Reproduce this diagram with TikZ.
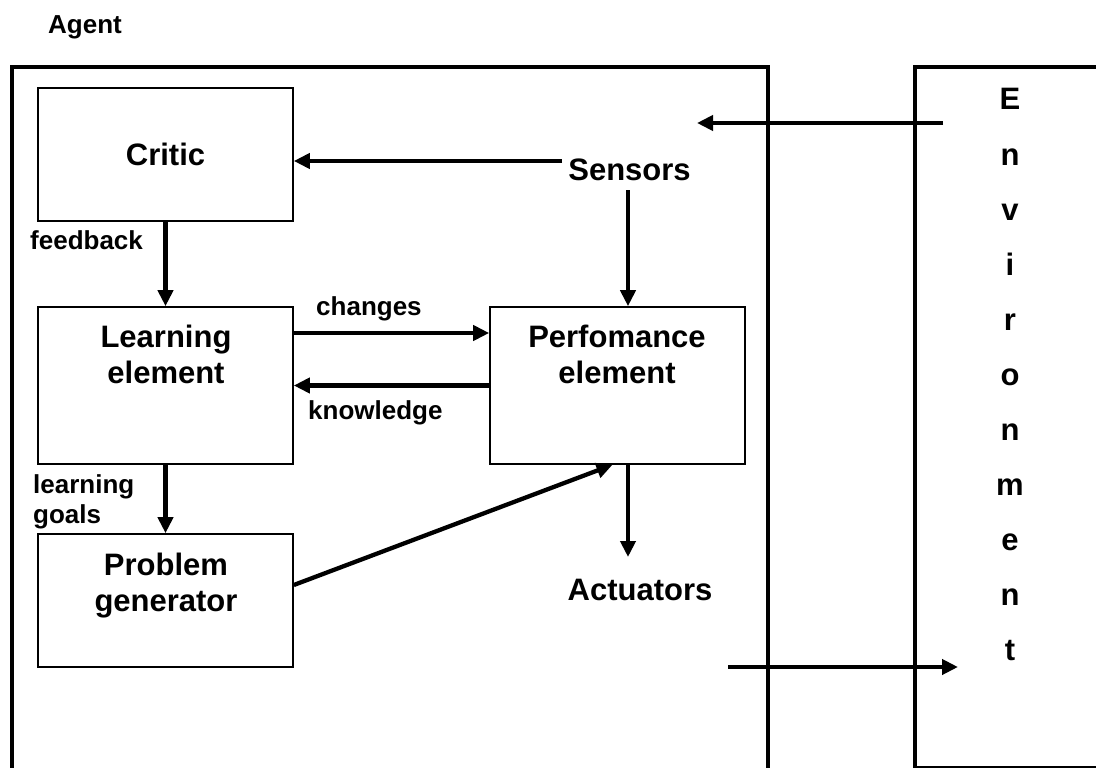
\documentclass[tikz,border=0pt]{standalone}
\usepackage{fontspec}
\setmainfont{Liberation Sans}
\usetikzlibrary{arrows.meta}

\tikzset{
  frame/.style={line width=4.5pt},
  block/.style={draw, line width=1.6pt, inner sep=0pt, font=\bigfont},
  bigtxt/.style={inner sep=0pt, align=center, font=\bigfont},
  smalltxt/.style={inner sep=0pt, align=left, font=\smallfont},
  arr/.style={line width=4.3pt, -{Triangle[length=16pt,width=15pt]}},
}
\newcommand{\bigfont}{\fontsize{31}{36.5}\selectfont\bfseries}
\newcommand{\smallfont}{\fontsize{26}{30}\selectfont\bfseries}

\begin{document}
\begin{tikzpicture}[x=1pt,y=-1pt]
\useasboundingbox (0,0) rectangle (1096,768);

% agent and environment frames
\draw[frame] (12,800) -- (12,67) -- (768,67) -- (768,800);
\draw[frame] (1110,67) -- (915,67) -- (915,768.5) -- (1110,768.5);

\node[smalltxt, anchor=base west] (agent) at (48,34) {Agent};

% component boxes
\node[block, minimum width=255pt, minimum height=133pt] (critic) at (165.5,154.5) {Critic};
\node[block, minimum width=255pt, minimum height=157pt] (learn) at (165.5,385.5) {};
\node[block, minimum width=255pt, minimum height=157pt] (perf) at (617.5,385.5) {};
\node[block, minimum width=255pt, minimum height=133pt] (prob) at (165.5,600.5) {};

\node[bigtxt, anchor=north] (learntxt) at (166,324.5) {Learning\\element};
\node[bigtxt, anchor=north] (perftxt) at (617,324.5) {Perfomance\\element};
\node[bigtxt, anchor=north] (probtxt) at (166,552.5) {Problem\\generator};

\node[bigtxt, anchor=base] (sensors) at (629.5,180) {Sensors};
\node[bigtxt, anchor=base] (act) at (640,600) {Actuators};

% environment lettering
\foreach \c [count=\i] in {E,n,v,i,r,o,n,m,e,n,t}
  \node[bigtxt, anchor=base] (env\i) at (1010,{110+55*(\i-1)}) {\c};

% connector labels
\node[smalltxt, anchor=base west] (fb) at (30,249) {feedback};
\node[smalltxt, anchor=base west] (chg) at (316,315) {changes};
\node[smalltxt, anchor=base west] (knw) at (308,419) {knowledge};
\node[smalltxt, anchor=north west] (lg) at (33,474) {learning\\goals};

% free ends of the sensor and actuator connectors
\coordinate (envin) at (943,123);
\coordinate (sensin) at (697,123);
\coordinate (sL) at (562,161);
\coordinate (sD) at (628,190);
\coordinate (aD) at (628,557);
\coordinate (aout) at (728,667);
\coordinate (envout) at (958,667);

% connectors
\draw[arr] (envin) -- (sensin);
\draw[arr] (sL) -- (sL -| critic.east);
\draw[arr] (sD) -- (sD |- perf.north);
\draw[arr] (critic.south) -- (learn.north);
\draw[arr] ([yshift=52.5pt]learn.east) -- ([yshift=52.5pt]perf.west);
\draw[arr] (perf.west) -- (learn.east);
\draw[arr] (learn.south) -- (prob.north);
\draw[arr] ([yshift=15.5pt]prob.east) -- ([xshift=-5pt]perf.south);
\draw[arr] (aD |- perf.south) -- (aD);
\draw[arr] (aout) -- (envout);
\end{tikzpicture}
\end{document}
